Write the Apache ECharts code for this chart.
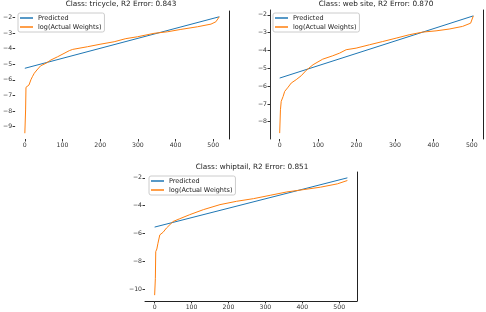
<!DOCTYPE html>
<html>
<head>
<meta charset="utf-8">
<script src="https://cdn.jsdelivr.net/npm/echarts@6/dist/echarts.min.js"></script>
<style>html,body{margin:0;padding:0;background:#fff}#c{width:486px;height:312px}</style>
</head>
<body>
<div id="c"></div>
<script>
// ---- data ----
const titles = ['Class: tricycle, R2 Error: 0.843', 'Class: web site, R2 Error: 0.870', 'Class: whiptail, R2 Error: 0.851'];
const seriesNames = ['Predicted', 'log(Actual Weights)'];
const xTicks = [0, 100, 200, 300, 400, 500];
const yTicks1 = [-2, -3, -4, -5, -6, -7, -8, -9];
const yTicks2 = [-2, -3, -4, -5, -6, -7, -8];
const yTicks3 = [-2, -4, -6, -8, -10];

const tricyclePredX = [0, 516];
const tricyclePredY = [-5.26, -1.96];
const tricycleActX = [0, 2, 3, 11, 16, 20, 25, 32, 42, 56, 69, 87, 118, 127, 166, 202, 237, 268, 299, 343, 379, 414, 458, 494, 507, 516];
const tricycleActY = [-9.42, -7.93, -6.48, -6.33, -6.0, -5.8, -5.58, -5.37, -5.1, -4.94, -4.73, -4.52, -4.13, -4.05, -3.88, -3.71, -3.56, -3.36, -3.24, -3.02, -2.92, -2.77, -2.6, -2.43, -2.28, -1.96];

const websitePredX = [0, 504];
const websitePredY = [-5.55, -2.06];
const websiteActX = [0, 2, 4, 9, 13, 22, 30, 43, 56, 69, 87, 112, 138, 156, 173, 199, 234, 268, 303, 337, 372, 407, 441, 476, 497, 504];
const websiteActY = [-8.64, -7.33, -6.86, -6.58, -6.3, -6.06, -5.83, -5.64, -5.42, -5.12, -4.8, -4.49, -4.3, -4.15, -3.96, -3.87, -3.68, -3.5, -3.31, -3.12, -2.97, -2.9, -2.8, -2.65, -2.47, -2.06];

const whiptailPredX = [0, 522];
const whiptailPredY = [-5.53, -2.0];
const whiptailActX = [0, 2, 3, 6, 9, 14, 23, 32, 50, 68, 95, 132, 177, 222, 268, 313, 358, 404, 449, 495, 522];
const whiptailActY = [-10.41, -9.2, -7.29, -7.1, -6.69, -6.09, -5.9, -5.6, -5.13, -4.93, -4.64, -4.28, -3.92, -3.68, -3.49, -3.25, -3.01, -2.84, -2.67, -2.43, -2.19];

// ---- build ----
const pairs = (xs, ys) => xs.map((x, i) => [x, ys[i]]);
const fmt = v => (v < 0 ? '\u2212' : '') + Math.abs(v);
const BLUE = '#1f77b4', ORANGE = '#ff7f0e';
const FONT = 'DejaVu Sans';

const panels = [
  {grid: {left: 14, top: 11, width: 215, height: 128}, x: [-25.8, 541.8], y: [-9.79, -1.59], yt: yTicks1,
   pred: pairs(tricyclePredX, tricyclePredY), act: pairs(tricycleActX, tricycleActY),
   title: {x: 121, y: 1}, legend: {left: 18, top: 13}, spines: {left: false, bottom: false, right: true}},
  {grid: {left: 270, top: 10, width: 213, height: 129}, x: [-25.2, 529.2], y: [-8.97, -1.73], yt: yTicks2,
   pred: pairs(websitePredX, websitePredY), act: pairs(websiteActX, websiteActY),
   title: {x: 376, y: 1}, legend: {left: 273, top: 13}, spines: {left: true, bottom: false, right: true}},
  {grid: {left: 145, top: 172, width: 212, height: 129}, x: [-26.1, 548.1], y: [-10.83, -1.58], yt: yTicks3,
   pred: pairs(whiptailPredX, whiptailPredY), act: pairs(whiptailActX, whiptailActY),
   title: {x: 252, y: 164}, legend: {left: 149, top: 176}, spines: {left: false, bottom: true, right: true}}
];

const option = {animation: false, backgroundColor: '#fff', title: [], grid: [], xAxis: [], yAxis: [], legend: [], series: []};
panels.forEach((p, i) => {
  option.title.push({text: titles[i], left: p.title.x, top: p.title.y, textAlign: 'center', padding: 0,
    textStyle: {fontFamily: FONT, fontSize: 7.3, fontWeight: 'normal', color: '#222'}});
  option.grid.push(p.grid);
  option.xAxis.push({type: 'value', gridIndex: i, min: p.x[0], max: p.x[1],
    axisLine: {show: p.spines.bottom, lineStyle: {color: '#222', width: 1}},
    axisTick: {show: true, length: 2.5, customValues: xTicks, lineStyle: {color: '#333'}},
    axisLabel: {customValues: xTicks, formatter: fmt, fontFamily: FONT, fontSize: 6.2, color: '#333', margin: 3},
    splitLine: {show: false}});
  option.yAxis.push({type: 'value', gridIndex: i, min: p.y[0], max: p.y[1],
    axisLine: {show: p.spines.left, onZero: false, lineStyle: {color: '#333', width: 1}},
    axisTick: {show: true, length: 2.5, customValues: p.yt, lineStyle: {color: '#333'}},
    axisLabel: {customValues: p.yt, formatter: fmt, fontFamily: FONT, fontSize: 6.2, color: '#333', margin: 3},
    splitLine: {show: false}});
  option.yAxis.push({type: 'value', gridIndex: i, position: 'right', min: p.y[0], max: p.y[1],
    axisLine: {show: p.spines.right, onZero: false, lineStyle: {color: '#222', width: 1}},
    axisTick: {show: false}, axisLabel: {show: false}, splitLine: {show: false}});
  option.legend.push({orient: 'vertical', left: p.legend.left, top: p.legend.top,
    data: seriesNames.map(n => ({name: n, icon: 'rect'})),
    itemWidth: 13, itemHeight: 1.5, itemGap: 2, padding: [1.5, 3, 1.5, 2],
    backgroundColor: 'rgba(255,255,255,0.8)', borderColor: '#ccc', borderWidth: 1, borderRadius: 2,
    textStyle: {fontFamily: FONT, fontSize: 6.5, color: '#222', lineHeight: 7}, selectedMode: false});
  const yi = i * 2;
  option.series.push({name: seriesNames[0], type: 'line', xAxisIndex: i, yAxisIndex: yi, data: p.pred,
    showSymbol: false, color: BLUE, lineStyle: {width: 1, color: BLUE}});
  option.series.push({name: seriesNames[1], type: 'line', xAxisIndex: i, yAxisIndex: yi, data: p.act,
    showSymbol: false, color: ORANGE, lineStyle: {width: 1, color: ORANGE}});
});

const chart = echarts.init(document.getElementById('c'), null, {renderer: 'canvas'});
chart.setOption(option);
</script>
</body>
</html>
